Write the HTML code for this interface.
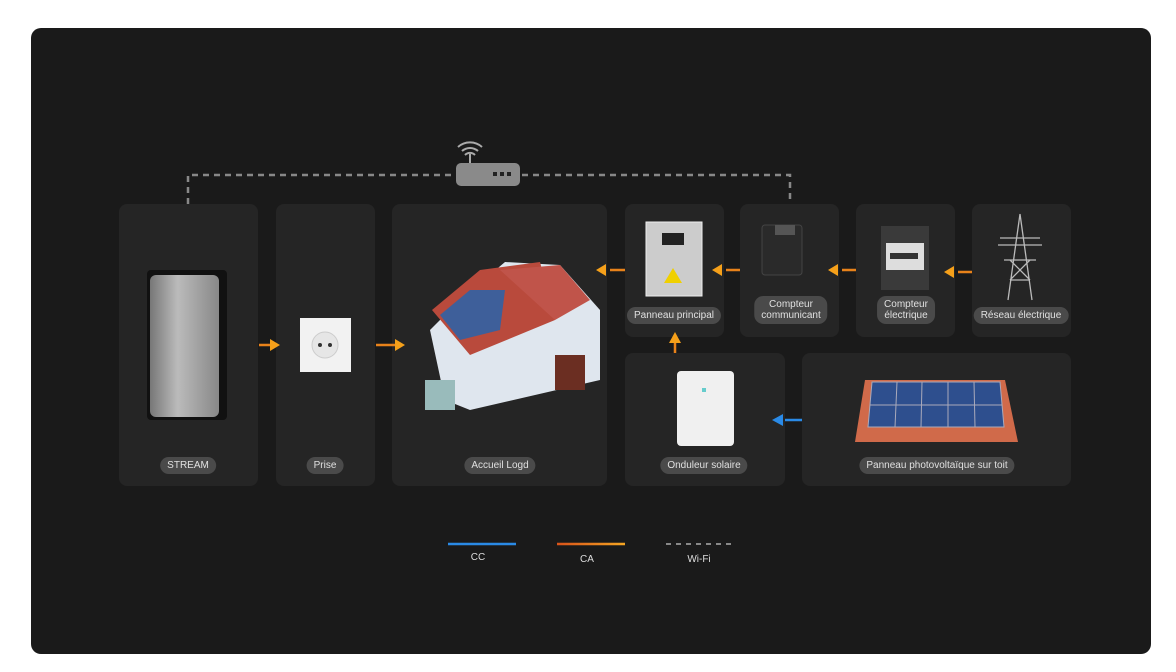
<!DOCTYPE html>
<html><head><meta charset="utf-8"><style>
body{margin:0;width:1176px;height:672px;background:#fff;position:relative;overflow:hidden;font-family:"Liberation Sans",sans-serif}
.bg{position:absolute;left:31px;top:28px;width:1120px;height:626px;background:#1a1a1a;border-radius:10px}
.c{position:absolute;background:#252525;border-radius:8px}
.p{position:absolute;background:#4a4a4a;color:#e0e0e0;font-size:10px;border-radius:9px;padding:3px 7px;transform:translateX(-50%);white-space:nowrap;text-align:center;line-height:11px}
.l{position:absolute;color:#ddd;font-size:10px;transform:translateX(-50%)}
svg{position:absolute;left:0;top:0}
</style></head><body>
<div class="bg"></div>
<div class="c" style="left:119px;top:204px;width:139px;height:282px"></div>
<div class="c" style="left:276px;top:204px;width:99px;height:282px"></div>
<div class="c" style="left:392px;top:204px;width:215px;height:282px"></div>
<div class="c" style="left:625px;top:204px;width:99px;height:133px"></div>
<div class="c" style="left:740px;top:204px;width:99px;height:133px"></div>
<div class="c" style="left:856px;top:204px;width:99px;height:133px"></div>
<div class="c" style="left:972px;top:204px;width:99px;height:133px"></div>
<div class="c" style="left:625px;top:353px;width:160px;height:133px"></div>
<div class="c" style="left:802px;top:353px;width:269px;height:133px"></div>
<svg width="1176" height="672">
<defs><linearGradient id="m" x1="0" x2="1"><stop offset="0" stop-color="#777"/><stop offset=".4" stop-color="#bbb"/><stop offset="1" stop-color="#888"/></linearGradient>
<linearGradient id="o" gradientUnits="userSpaceOnUse" x1="557" y1="0" x2="625" y2="0"><stop offset="0" stop-color="#d9531a"/><stop offset="1" stop-color="#f5a623"/></linearGradient></defs>
<path d="M188 204V175H790V204" fill="none" stroke="#888" stroke-width="2.5" stroke-dasharray="6 5"/>
<rect x="456" y="163" width="64" height="23" rx="5" fill="#8a8a8a"/>
<rect x="493" y="172" width="4" height="4" fill="#222"/><rect x="500" y="172" width="4" height="4" fill="#222"/><rect x="507" y="172" width="4" height="4" fill="#222"/>
<path d="M470 163v-9M462 151a12 12 0 0 1 16 0M458 147a18 18 0 0 1 24 0M465 155a7 7 0 0 1 10 0" stroke="#aaa" stroke-width="2" fill="none"/>
<rect x="147" y="270" width="80" height="150" rx="4" fill="#111"/>
<rect x="150" y="275" width="69" height="142" rx="6" fill="url(#m)"/>
<rect x="300" y="318" width="51" height="54" fill="#f2f2f2"/><circle cx="325" cy="345" r="13" fill="#e6e6e6" stroke="#ccc"/>
<circle cx="320" cy="345" r="2" fill="#333"/><circle cx="330" cy="345" r="2" fill="#333"/>
<polygon points="430,330 445,400 470,410 600,380 600,310 560,265 505,262 460,300" fill="#dfe6ee"/>
<polygon points="432,310 480,270 540,262 555,320 470,355" fill="#b94a3c"/>
<polygon points="440,315 470,290 505,290 500,330 460,340" fill="#3e5f9a"/>
<polygon points="500,270 560,265 590,300 555,320" fill="#c0544a"/>
<rect x="555" y="355" width="30" height="35" fill="#6b2e22"/>
<rect x="425" y="380" width="30" height="30" fill="#9bb"/>
<g fill="#f5a01a" stroke="#e8821a" stroke-width="2.5">
<line x1="259" y1="345" x2="272" y2="345"/><polygon points="270,339 280,345 270,351" stroke="none"/>
<line x1="376" y1="345" x2="396" y2="345"/><polygon points="395,339 405,345 395,351" stroke="none"/>
<line x1="610" y1="270" x2="625" y2="270"/><polygon points="606,264 596,270 606,276" stroke="none"/>
<line x1="726" y1="270" x2="740" y2="270"/><polygon points="722,264 712,270 722,276" stroke="none"/>
<line x1="842" y1="270" x2="856" y2="270"/><polygon points="838,264 828,270 838,276" stroke="none"/>
<line x1="958" y1="272" x2="972" y2="272"/><polygon points="954,266 944,272 954,278" stroke="none"/>
<line x1="675" y1="343" x2="675" y2="353"/><polygon points="669,343 675,332 681,343" stroke="none"/>
</g>
<line x1="785" y1="420" x2="802" y2="420" stroke="#2a8ae6" stroke-width="2.5"/><polygon points="783,414 772,420 783,426" fill="#2a8ae6"/>
<rect x="646" y="222" width="56" height="74" fill="#ccc" stroke="#eee"/><rect x="662" y="233" width="22" height="12" fill="#222"/>
<polygon points="673,268 664,283 682,283" fill="#f0d000"/>
<rect x="762" y="225" width="40" height="50" rx="3" fill="#2a2a2a" stroke="#444"/><rect x="775" y="225" width="20" height="10" fill="#555"/>
<rect x="881" y="226" width="48" height="64" fill="#3a3a3a"/><rect x="886" y="243" width="38" height="27" fill="#ddd"/><rect x="890" y="253" width="28" height="6" fill="#333"/>
<g stroke="#bbb" stroke-width="1.3" fill="none"><path d="M1020 214L1008 300M1020 214L1032 300M1000 238h40M998 245h44M1004 260h32M1010 280h20M1010 260l20 20M1030 260l-20 20"/></g>
<rect x="677" y="371" width="57" height="75" rx="4" fill="#f0f0f0"/><rect x="702" y="388" width="4" height="4" fill="#6cc"/>
<polygon points="865,380 1005,380 1018,442 855,442" fill="#d06a4a"/>
<polygon points="872,382 1000,382 1004,427 868,427" fill="#2e4f8e" stroke="#aab" stroke-width="1"/>
<line x1="870" y1="405" x2="1002" y2="405" stroke="#aab"/>
<g stroke="#aab"><line x1="897" y1="382" x2="895" y2="427"/><line x1="922" y1="382" x2="921" y2="427"/><line x1="948" y1="382" x2="948" y2="427"/><line x1="974" y1="382" x2="975" y2="427"/></g>
<line x1="448" y1="544" x2="516" y2="544" stroke="#2a8ae6" stroke-width="2.5"/>
<line x1="557" y1="544" x2="625" y2="544" stroke="url(#o)" stroke-width="2.5"/>
<line x1="666" y1="544" x2="734" y2="544" stroke="#888" stroke-width="2" stroke-dasharray="5 5"/>
</svg>
<div class="p" style="left:188px;top:457px">STREAM</div>
<div class="p" style="left:325px;top:457px">Prise</div>
<div class="p" style="left:500px;top:457px">Accueil Logd</div>
<div class="p" style="left:674px;top:307px">Panneau principal</div>
<div class="p" style="left:791px;top:296px">Compteur<br>communicant</div>
<div class="p" style="left:906px;top:296px">Compteur<br>électrique</div>
<div class="p" style="left:1021px;top:307px">Réseau électrique</div>
<div class="p" style="left:704px;top:457px">Onduleur solaire</div>
<div class="p" style="left:937px;top:457px">Panneau photovoltaïque sur toit</div>
<div class="l" style="left:478px;top:552px">CC</div>
<div class="l" style="left:587px;top:554px">CA</div>
<div class="l" style="left:699px;top:554px">Wi-Fi</div>
</body></html>
